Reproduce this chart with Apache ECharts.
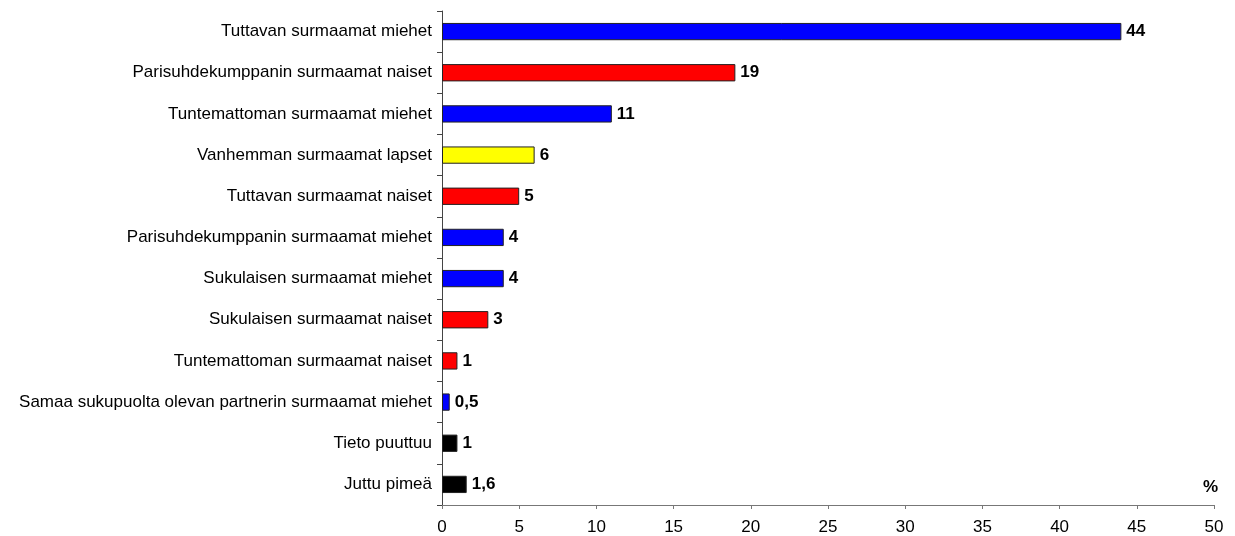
<!DOCTYPE html>
<html>
<head>
<meta charset="utf-8">
<script src="https://cdn.jsdelivr.net/npm/echarts@6/dist/echarts.min.js"></script>
<style>html,body{margin:0;padding:0;background:#fff;}#c{width:1235px;height:536px;}</style>
</head>
<body>
<div id="c"></div>
<script>
const categories = [
  "Tuttavan surmaamat miehet",
  "Parisuhdekumppanin surmaamat naiset",
  "Tuntemattoman surmaamat miehet",
  "Vanhemman surmaamat lapset",
  "Tuttavan surmaamat naiset",
  "Parisuhdekumppanin surmaamat miehet",
  "Sukulaisen surmaamat miehet",
  "Sukulaisen surmaamat naiset",
  "Tuntemattoman surmaamat naiset",
  "Samaa sukupuolta olevan partnerin surmaamat miehet",
  "Tieto puuttuu",
  "Juttu pimeä"
];
const values = [44, 19, 11, 6, 5, 4, 4, 3, 1, 0.5, 1, 1.6];
const valueLabels = ["44", "19", "11", "6", "5", "4", "4", "3", "1", "0,5", "1", "1,6"];
const groups = ["m", "w", "m", "c", "w", "m", "m", "w", "w", "m", "x", "x"];
const groupColors = { m: "#0000FF", w: "#FF0000", c: "#FFFF00", x: "#000000" };

const chart = echarts.init(document.getElementById('c'));
chart.setOption({
  animation: false,
  grid: { left: 442, right: 21, top: 11, bottom: 30, containLabel: false },
  xAxis: {
    type: 'value', min: 0, max: 50, interval: 5,
    axisLine: { show: true, lineStyle: { color: '#777', width: 1 } },
    axisTick: { show: true, length: 4, lineStyle: { color: '#777' } },
    axisLabel: { color: '#000', fontFamily: 'Liberation Sans', fontSize: 17, margin: 14 },
    splitLine: { show: false },
    name: '%', nameLocation: 'end', nameGap: 0,
    nameTextStyle: { fontFamily: 'Liberation Sans', fontWeight: 'bold', fontSize: 17, color: '#000', align: 'right', verticalAlign: 'bottom', padding: [0, -4, 9, 0] }
  },
  yAxis: {
    type: 'category', data: categories, inverse: true,
    axisLine: { show: true, lineStyle: { color: '#444', width: 1 } },
    axisTick: { show: true, length: 5, alignWithLabel: false, lineStyle: { color: '#444' } },
    axisLabel: { color: '#000', fontFamily: 'Liberation Sans', fontSize: 17, margin: 10 }
  },
  series: [{
    type: 'bar',
    barWidth: '42%',
    data: values.map((v, i) => ({
      value: v,
      itemStyle: { color: groupColors[groups[i]], borderColor: '#222', borderWidth: 1 }
    })),
    label: {
      show: true, position: 'right', distance: 5,
      fontFamily: 'Liberation Sans', fontWeight: 'bold', fontSize: 17, color: '#000',
      formatter: p => valueLabels[p.dataIndex]
    }
  }]
});
</script>
</body>
</html>
